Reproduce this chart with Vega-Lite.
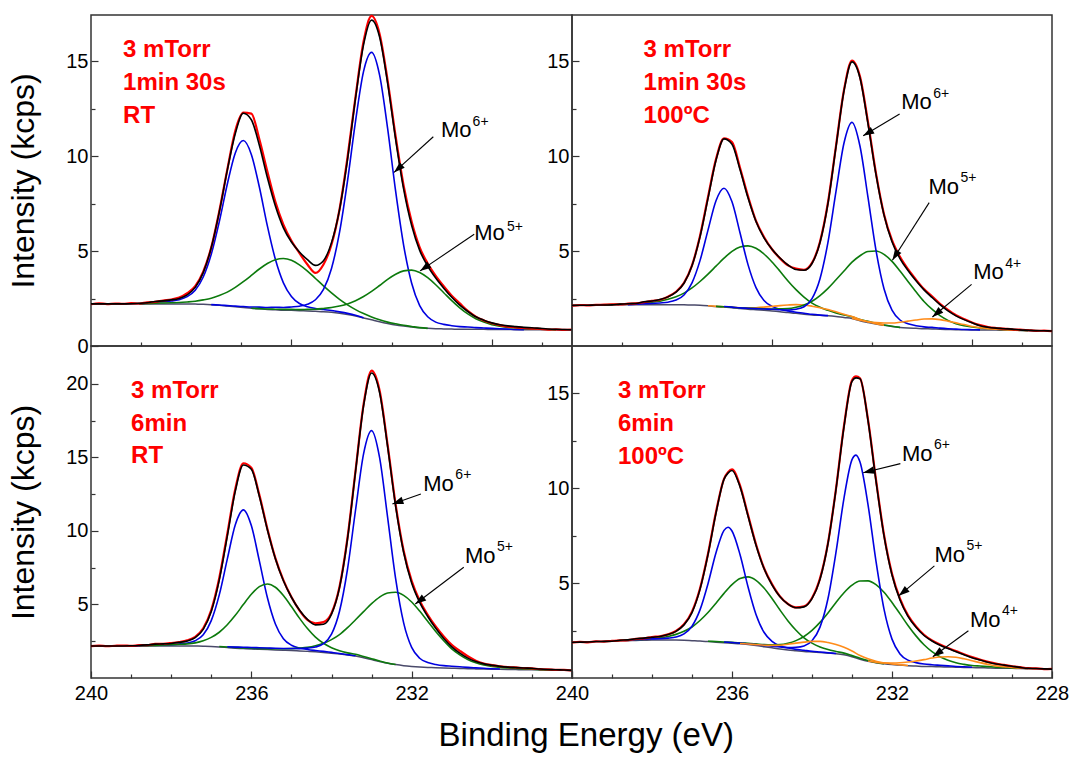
{
"$schema":"https://vega.github.io/schema/vega-lite/v6.json",
"autosize":{"type":"pad"},
"padding":{"left":7,"top":10,"right":5,"bottom":5},
"background":"white",
"title":{"text":"Binding Energy (eV)","orient":"bottom","anchor":"middle","fontSize":33,"font":"Liberation Sans","fontWeight":"normal","color":"#000","offset":13,"dx":48},
"config":{
 "view":{"stroke":"#333333","strokeWidth":1.5},
 "axis":{"domain":false,"grid":false,"labelFont":"Liberation Sans","labelFontSize":20,"labelColor":"#000","tickColor":"#333333","tickWidth":1.2,"titleFont":"Liberation Sans","titleFontWeight":"normal","titleFontSize":32,"titleColor":"#000","labelFlush":false,"labelOverlap":false,"ticks":true}
},
"datasets":{
"tl":[
{"x":240,"d":2.2,"f":2.22,"bg":2.22},
{"x":239.8,"d":2.25,"f":2.22,"bg":2.22},
{"x":239.6,"d":2.21,"f":2.22,"bg":2.22},
{"x":239.4,"d":2.24,"f":2.22,"bg":2.22},
{"x":239.2,"d":2.22,"f":2.22,"bg":2.22},
{"x":239,"d":2.26,"f":2.23,"bg":2.22},
{"x":238.8,"d":2.24,"f":2.25,"bg":2.22,"b1":2.22,"g1":2.22},
{"x":238.6,"d":2.3,"f":2.28,"bg":2.22,"b1":2.27,"g1":2.24},
{"x":238.4,"d":2.33,"f":2.35,"bg":2.22,"b1":2.31,"g1":2.26},
{"x":238.2,"d":2.4,"f":2.38,"bg":2.22,"b1":2.33,"g1":2.27},
{"x":238,"d":2.45,"f":2.43,"bg":2.22,"b1":2.37,"g1":2.28},
{"x":237.8,"d":2.55,"f":2.51,"bg":2.22,"b1":2.44,"g1":2.29},
{"x":237.6,"d":2.78,"f":2.7,"bg":2.22,"b1":2.6,"g1":2.32},
{"x":237.4,"d":3.15,"f":3.09,"bg":2.21,"b1":2.94,"g1":2.36},
{"x":237.2,"d":3.92,"f":3.87,"bg":2.2,"b1":3.64,"g1":2.43},
{"x":237,"d":5.2,"f":5.18,"bg":2.18,"b1":4.84,"g1":2.52,"b2":2.18},
{"x":236.8,"d":7.1,"f":7.06,"bg":2.15,"b1":6.55,"g1":2.66,"b2":2.16},
{"x":236.6,"d":9.3,"f":9.26,"bg":2.11,"b1":8.53,"g1":2.84,"b2":2.13},
{"x":236.4,"d":11.35,"f":11.2,"bg":2.07,"b1":10.18,"g1":3.09,"b2":2.1},
{"x":236.2,"d":12.3,"f":12.27,"bg":2.03,"b1":10.83,"g1":3.39,"b2":2.08},
{"x":236,"d":12.25,"f":11.93,"bg":1.99,"b1":10.1,"g1":3.72,"b2":2.06,"g2":1.99},
{"x":235.8,"d":10.9,"f":10.58,"bg":1.96,"b1":8.38,"g1":4.06,"b2":2.05,"g2":1.97},
{"x":235.6,"d":9.2,"f":8.88,"bg":1.93,"b1":6.33,"g1":4.35,"b2":2.03,"g2":1.95},
{"x":235.4,"d":7.6,"f":7.38,"bg":1.91,"b1":4.57,"g1":4.55,"b2":2.04,"g2":1.94},
{"x":235.2,"d":6.4,"f":6.23,"bg":1.89,"b1":3.33,"g1":4.61,"b2":2.03,"g2":1.93},
{"x":235,"d":5.55,"f":5.48,"bg":1.88,"b1":2.61,"g1":4.52,"b2":2.06,"g2":1.93},
{"x":234.8,"d":4.9,"f":4.96,"bg":1.86,"b1":2.24,"g1":4.28,"b2":2.1,"g2":1.92},
{"x":234.6,"d":4.3,"f":4.55,"bg":1.85,"b1":2.07,"g1":3.95,"b2":2.2,"g2":1.93},
{"x":234.4,"d":3.85,"f":4.25,"bg":1.83,"b1":1.98,"g1":3.56,"b2":2.44,"g2":1.94},
{"x":234.2,"d":4.3,"f":4.5,"bg":1.81,"b1":1.92,"g1":3.17,"b2":2.98,"g2":1.98},
{"x":234,"d":5.35,"f":5.45,"bg":1.78,"b1":1.87,"g1":2.8,"b2":4.09,"g2":2.03},
{"x":233.8,"d":7.2,"f":7.18,"bg":1.73,"b1":1.8,"g1":2.46,"b2":5.99,"g2":2.11},
{"x":233.6,"d":9.95,"f":9.84,"bg":1.66,"b1":1.72,"g1":2.17,"b2":8.71,"g2":2.22},
{"x":233.4,"d":13.15,"f":13.07,"bg":1.58,"b1":1.62,"g1":1.92,"b2":11.86,"g2":2.39},
{"x":233.2,"d":16.05,"f":15.89,"bg":1.48,"b1":1.49,"g1":1.71,"b2":14.48,"g2":2.61},
{"x":233,"d":17.4,"f":17.18,"bg":1.38,"g1":1.53,"b2":15.48,"g2":2.88},
{"x":232.8,"d":16.45,"f":16.29,"bg":1.28,"g1":1.38,"b2":14.28,"g2":3.19},
{"x":232.6,"d":14,"f":13.86,"bg":1.19,"g1":1.26,"b2":11.47,"g2":3.51},
{"x":232.4,"d":11.05,"f":10.89,"bg":1.11,"g1":1.17,"b2":8.16,"g2":3.78},
{"x":232.2,"d":8.45,"f":8.27,"bg":1.05,"g1":1.09,"b2":5.31,"g2":3.96},
{"x":232,"d":6.55,"f":6.35,"bg":1,"g1":1.03,"b2":3.31,"g2":4},
{"x":231.8,"d":5.2,"f":5.04,"bg":0.96,"g1":0.97,"b2":2.13,"g2":3.87},
{"x":231.6,"d":4.35,"f":4.21,"bg":0.93,"g1":0.93,"b2":1.54,"g2":3.6},
{"x":231.4,"d":3.7,"f":3.58,"bg":0.91,"b2":1.26,"g2":3.23},
{"x":231.2,"d":3.15,"f":3.05,"bg":0.9,"b2":1.14,"g2":2.81},
{"x":231,"d":2.65,"f":2.57,"bg":0.89,"b2":1.07,"g2":2.39},
{"x":230.8,"d":2.25,"f":2.15,"bg":0.88,"b2":1.02,"g2":2.01},
{"x":230.6,"d":1.85,"f":1.82,"bg":0.88,"b2":1.0,"g2":1.69},
{"x":230.4,"d":1.55,"f":1.54,"bg":0.88,"b2":0.97,"g2":1.44},
{"x":230.2,"d":1.35,"f":1.36,"bg":0.88,"b2":0.95,"g2":1.26},
{"x":230,"d":1.2,"f":1.22,"bg":0.87,"b2":0.93,"g2":1.12},
{"x":229.8,"d":1.1,"f":1.12,"bg":0.87,"b2":0.91,"g2":1.04},
{"x":229.6,"d":1.02,"f":1.06,"bg":0.87,"b2":0.89,"g2":0.98},
{"x":229.4,"d":0.98,"f":1.02,"bg":0.86,"b2":0.87,"g2":0.95},
{"x":229.2,"d":0.95,"f":0.98,"bg":0.86,"b2":0.86,"g2":0.92},
{"x":229,"d":0.92,"f":0.96,"bg":0.86,"g2":0.91},
{"x":228.8,"d":0.9,"f":0.93,"bg":0.86,"g2":0.89},
{"x":228.6,"d":0.86,"f":0.9,"bg":0.86,"g2":0.87},
{"x":228.4,"d":0.88,"f":0.88,"bg":0.85,"g2":0.85},
{"x":228.2,"d":0.85,"f":0.87,"bg":0.85},
{"x":228,"d":0.87,"f":0.86,"bg":0.85}
],
"tr":[
{"x":240,"d":2.13,"f":2.14,"bg":2.14},
{"x":239.8,"d":2.16,"f":2.15,"bg":2.15},
{"x":239.6,"d":2.14,"f":2.15,"bg":2.15},
{"x":239.4,"d":2.17,"f":2.16,"bg":2.16},
{"x":239.2,"d":2.18,"f":2.16,"bg":2.16,"g1":2.17},
{"x":239,"d":2.2,"f":2.17,"bg":2.17,"g1":2.19},
{"x":238.8,"d":2.19,"f":2.21,"bg":2.17,"g1":2.21},
{"x":238.6,"d":2.23,"f":2.23,"bg":2.17,"g1":2.23,"b1":2.18},
{"x":238.4,"d":2.25,"f":2.24,"bg":2.17,"g1":2.24,"b1":2.2},
{"x":238.2,"d":2.31,"f":2.33,"bg":2.18,"b1":2.23,"g1":2.27},
{"x":238,"d":2.38,"f":2.37,"bg":2.18,"b1":2.24,"g1":2.31},
{"x":237.8,"d":2.44,"f":2.45,"bg":2.18,"b1":2.27,"g1":2.36},
{"x":237.6,"d":2.6,"f":2.59,"bg":2.18,"b1":2.31,"g1":2.46},
{"x":237.4,"d":2.86,"f":2.84,"bg":2.18,"b1":2.42,"g1":2.6},
{"x":237.2,"d":3.33,"f":3.31,"bg":2.17,"b1":2.69,"g1":2.79},
{"x":237,"d":4.25,"f":4.23,"bg":2.16,"b1":3.33,"g1":3.06},
{"x":236.8,"d":5.8,"f":5.75,"bg":2.15,"b1":4.5,"g1":3.4},
{"x":236.6,"d":7.85,"f":7.78,"bg":2.12,"b1":6.11,"g1":3.79,"o1":2.12},
{"x":236.4,"d":9.85,"f":9.79,"bg":2.08,"b1":7.66,"g1":4.21,"o1":2.09,"g2":2.09},
{"x":236.2,"d":10.95,"f":10.92,"bg":2.05,"b1":8.32,"g1":4.63,"o1":2.07,"b2":2.08,"g2":2.07},
{"x":236,"d":10.75,"f":10.64,"bg":2.02,"b1":7.6,"g1":4.99,"o1":2.04,"b2":2.05,"g2":2.04},
{"x":235.8,"d":9.4,"f":9.3,"bg":1.98,"b1":5.97,"g1":5.22,"o1":2.02,"b2":2.01,"g2":2.01},
{"x":235.6,"d":7.9,"f":7.81,"bg":1.94,"b1":4.29,"g1":5.28,"o1":2.01,"g2":1.99,"b2":1.99},
{"x":235.4,"d":6.6,"f":6.56,"bg":1.91,"b1":3.08,"g1":5.15,"o1":2.02,"g2":1.98,"b2":1.97},
{"x":235.2,"d":5.75,"f":5.7,"bg":1.88,"b1":2.4,"g1":4.85,"o1":2.05,"g2":1.96,"b2":1.95},
{"x":235,"d":5.1,"f":5.1,"bg":1.85,"b1":2.09,"g1":4.43,"o1":2.09,"g2":1.95,"b2":1.94},
{"x":234.8,"d":4.62,"f":4.64,"bg":1.81,"b1":1.94,"g1":3.94,"o1":2.13,"g2":1.96,"b2":1.91},
{"x":234.6,"d":4.25,"f":4.27,"bg":1.76,"b1":1.85,"g1":3.43,"o1":2.16,"g2":1.97,"b2":1.9},
{"x":234.4,"d":4.08,"f":4.03,"bg":1.72,"b1":1.78,"g1":2.97,"o1":2.18,"g2":2.04,"b2":1.94},
{"x":234.2,"d":4.02,"f":3.99,"bg":1.68,"b1":1.73,"g1":2.58,"o1":2.16,"g2":2.16,"b2":2.07},
{"x":234,"d":4.38,"f":4.35,"bg":1.64,"b1":1.67,"g1":2.26,"o1":2.1,"g2":2.36,"b2":2.5},
{"x":233.8,"d":5.5,"f":5.46,"bg":1.62,"b1":1.63,"g1":2.04,"o1":2.02,"g2":2.66,"b2":3.55},
{"x":233.6,"d":7.58,"f":7.52,"bg":1.6,"b1":1.6,"g1":1.88,"o1":1.92,"g2":3.04,"b2":5.48},
{"x":233.4,"d":10.55,"f":10.5,"bg":1.56,"g1":1.74,"o1":1.8,"g2":3.49,"b2":8.15},
{"x":233.2,"d":13.5,"f":13.45,"bg":1.5,"g1":1.63,"o1":1.67,"g2":3.95,"b2":10.7},
{"x":233,"d":15.05,"f":14.98,"bg":1.45,"g1":1.54,"o1":1.56,"g2":4.42,"b2":11.79,"o2":1.47},
{"x":232.8,"d":14.2,"f":14.13,"bg":1.33,"g1":1.4,"o1":1.4,"g2":4.76,"b2":10.53,"o2":1.36},
{"x":232.6,"d":11.8,"f":11.71,"bg":1.24,"g1":1.3,"o1":1.28,"g2":4.98,"b2":7.83,"o2":1.28},
{"x":232.4,"d":9.1,"f":9.03,"bg":1.16,"g1":1.2,"o1":1.18,"g2":5.01,"b2":5.04,"o2":1.23},
{"x":232.2,"d":6.95,"f":6.9,"bg":1.09,"g1":1.11,"o1":1.1,"g2":4.83,"b2":3.02,"o2":1.21},
{"x":232,"d":5.58,"f":5.5,"bg":1.03,"g1":1.04,"g2":4.46,"b2":1.89,"o2":1.21},
{"x":231.8,"d":4.7,"f":4.61,"bg":0.98,"g1":0.98,"g2":3.95,"b2":1.37,"o2":1.25},
{"x":231.6,"d":4.05,"f":3.98,"bg":0.95,"g2":3.4,"b2":1.17,"o2":1.31},
{"x":231.4,"d":3.5,"f":3.44,"bg":0.93,"g2":2.86,"b2":1.07,"o2":1.37},
{"x":231.2,"d":3,"f":2.96,"bg":0.91,"g2":2.35,"b2":1.01,"o2":1.42},
{"x":231,"d":2.62,"f":2.56,"bg":0.9,"g2":1.94,"b2":0.98,"o2":1.43},
{"x":230.8,"d":2.22,"f":2.18,"bg":0.88,"g2":1.6,"b2":0.94,"o2":1.39},
{"x":230.6,"d":1.9,"f":1.85,"bg":0.87,"g2":1.35,"b2":0.91,"o2":1.31},
{"x":230.4,"d":1.62,"f":1.59,"bg":0.86,"g2":1.18,"b2":0.89,"o2":1.22},
{"x":230.2,"d":1.42,"f":1.39,"bg":0.86,"g2":1.07,"b2":0.87,"o2":1.13},
{"x":230,"d":1.24,"f":1.22,"bg":0.85,"g2":1,"b2":0.86,"o2":1.03},
{"x":229.8,"d":1.1,"f":1.07,"bg":0.85,"g2":0.95,"b2":0.85,"o2":0.97},
{"x":229.6,"d":1,"f":0.99,"bg":0.84,"g2":0.92,"o2":0.91},
{"x":229.4,"d":0.95,"f":0.94,"bg":0.84,"g2":0.89,"o2":0.88},
{"x":229.2,"d":0.92,"f":0.91,"bg":0.83,"g2":0.87,"o2":0.86},
{"x":229,"d":0.88,"f":0.89,"bg":0.83,"g2":0.85,"o2":0.84},
{"x":228.8,"d":0.86,"f":0.85,"bg":0.82,"g2":0.83,"o2":0.82},
{"x":228.6,"d":0.84,"f":0.83,"bg":0.81,"g2":0.81},
{"x":228.4,"d":0.8,"f":0.81,"bg":0.8},
{"x":228.2,"d":0.81,"f":0.8,"bg":0.8},
{"x":228,"d":0.78,"f":0.79,"bg":0.79}
],
"bl":[
{"x":240,"d":2.17,"f":2.18,"bg":2.18},
{"x":239.8,"d":2.2,"f":2.18,"bg":2.18},
{"x":239.6,"d":2.16,"f":2.18,"bg":2.18},
{"x":239.4,"d":2.19,"f":2.18,"bg":2.18},
{"x":239.2,"d":2.21,"f":2.18,"bg":2.18},
{"x":239,"d":2.18,"f":2.19,"bg":2.18,"b1":2.18},
{"x":238.8,"d":2.23,"f":2.21,"bg":2.18,"b1":2.2,"g1":2.19},
{"x":238.6,"d":2.24,"f":2.25,"bg":2.18,"b1":2.22,"g1":2.2},
{"x":238.4,"d":2.32,"f":2.3,"bg":2.18,"b1":2.24,"g1":2.22},
{"x":238.2,"d":2.33,"f":2.32,"bg":2.18,"b1":2.26,"g1":2.24},
{"x":238,"d":2.38,"f":2.35,"bg":2.18,"b1":2.27,"g1":2.26},
{"x":237.8,"d":2.45,"f":2.42,"bg":2.18,"b1":2.31,"g1":2.29},
{"x":237.6,"d":2.56,"f":2.52,"bg":2.18,"b1":2.38,"g1":2.32},
{"x":237.4,"d":2.8,"f":2.75,"bg":2.17,"b1":2.53,"g1":2.39},
{"x":237.2,"d":3.38,"f":3.31,"bg":2.16,"b1":2.94,"g1":2.53},
{"x":237,"d":4.62,"f":4.52,"bg":2.14,"b1":3.9,"g1":2.76},
{"x":236.8,"d":6.8,"f":6.65,"bg":2.11,"b1":5.65,"g1":3.11,"g2":2.14},
{"x":236.6,"d":9.8,"f":9.63,"bg":2.07,"b1":8.08,"g1":3.62,"b2":2.12,"g2":2.11},
{"x":236.4,"d":12.85,"f":12.7,"bg":2.03,"b1":10.42,"g1":4.26,"b2":2.1,"g2":2.08},
{"x":236.2,"d":14.6,"f":14.48,"bg":2,"b1":11.43,"g1":4.99,"b2":2.09,"g2":2.05},
{"x":236,"d":14.3,"f":14.19,"bg":1.97,"b1":10.36,"g1":5.69,"b2":2.07,"g2":2.02},
{"x":235.8,"d":12.45,"f":12.35,"bg":1.95,"b1":7.96,"g1":6.21,"b2":2.06,"g2":2.01},
{"x":235.6,"d":10.15,"f":10.08,"bg":1.93,"b1":5.47,"g1":6.39,"g2":2,"b2":2.04},
{"x":235.4,"d":8.15,"f":8.11,"bg":1.91,"b1":3.67,"g1":6.17,"g2":1.99,"b2":2.02},
{"x":235.2,"d":6.65,"f":6.61,"bg":1.89,"b1":2.67,"g1":5.61,"g2":1.99,"b2":2.01},
{"x":235,"d":5.5,"f":5.49,"bg":1.87,"b1":2.23,"g1":4.86,"g2":2,"b2":2.01},
{"x":234.8,"d":4.6,"f":4.62,"bg":1.84,"b1":2.04,"g1":4.07,"g2":2.03,"b2":2},
{"x":234.6,"d":3.95,"f":3.98,"bg":1.81,"b1":1.94,"g1":3.36,"g2":2.08,"b2":2.03},
{"x":234.4,"d":3.72,"f":3.61,"bg":1.78,"b1":1.87,"g1":2.78,"g2":2.19,"b2":2.11},
{"x":234.2,"d":3.8,"f":3.65,"bg":1.74,"b1":1.81,"g1":2.36,"g2":2.36,"b2":2.33},
{"x":234,"d":4.4,"f":4.34,"bg":1.69,"b1":1.74,"g1":2.06,"g2":2.61,"b2":2.98},
{"x":233.8,"d":6.2,"f":6.14,"bg":1.63,"b1":1.67,"g1":1.85,"g2":2.95,"b2":4.54},
{"x":233.6,"d":9.55,"f":9.46,"bg":1.57,"b1":1.59,"g1":1.71,"g2":3.42,"b2":7.41},
{"x":233.4,"d":14.1,"f":14.04,"bg":1.5,"b1":1.51,"g1":1.61,"g2":3.96,"b2":11.42},
{"x":233.2,"d":18.6,"f":18.5,"bg":1.38,"g1":1.46,"g2":4.51,"b2":15.24},
{"x":233,"d":20.9,"f":20.73,"bg":1.25,"g1":1.31,"g2":5.05,"b2":16.82},
{"x":232.8,"d":19.55,"f":19.4,"bg":1.12,"g1":1.16,"g2":5.5,"b2":14.98},
{"x":232.6,"d":15.85,"f":15.73,"bg":1,"g1":1.02,"g2":5.78,"b2":10.92},
{"x":232.4,"d":11.8,"f":11.67,"bg":0.91,"g1":0.92,"g2":5.83,"b2":6.75},
{"x":232.2,"d":8.65,"f":8.53,"bg":0.84,"g2":5.62,"b2":3.75},
{"x":232,"d":6.6,"f":6.46,"bg":0.79,"g2":5.17,"b2":2.08},
{"x":231.8,"d":5.25,"f":5.14,"bg":0.75,"g2":4.55,"b2":1.34},
{"x":231.6,"d":4.3,"f":4.18,"bg":0.72,"g2":3.85,"b2":1.05},
{"x":231.4,"d":3.5,"f":3.38,"bg":0.7,"g2":3.16,"b2":0.92},
{"x":231.2,"d":2.82,"f":2.69,"bg":0.68,"g2":2.53,"b2":0.84},
{"x":231,"d":2.25,"f":2.12,"bg":0.66,"g2":1.98,"b2":0.8},
{"x":230.8,"d":1.85,"f":1.69,"bg":0.65,"g2":1.57,"b2":0.76},
{"x":230.6,"d":1.48,"f":1.35,"bg":0.63,"g2":1.25,"b2":0.72},
{"x":230.4,"d":1.18,"f":1.12,"bg":0.62,"g2":1.03,"b2":0.69},
{"x":230.2,"d":0.99,"f":0.96,"bg":0.61,"g2":0.88,"b2":0.66},
{"x":230,"d":0.88,"f":0.87,"bg":0.6,"g2":0.79,"b2":0.63},
{"x":229.8,"d":0.8,"f":0.79,"bg":0.59,"g2":0.72,"b2":0.61},
{"x":229.6,"d":0.74,"f":0.74,"bg":0.58,"g2":0.68},
{"x":229.4,"d":0.72,"f":0.71,"bg":0.57,"g2":0.65},
{"x":229.2,"d":0.67,"f":0.68,"bg":0.56,"g2":0.62},
{"x":229,"d":0.66,"f":0.66,"bg":0.56,"g2":0.6},
{"x":228.8,"d":0.6,"f":0.61,"bg":0.55,"g2":0.57},
{"x":228.6,"d":0.59,"f":0.58,"bg":0.54,"g2":0.55},
{"x":228.4,"d":0.55,"f":0.56,"bg":0.53,"g2":0.53},
{"x":228.2,"d":0.55,"f":0.54,"bg":0.52},
{"x":228,"d":0.51,"f":0.52,"bg":0.51}
],
"br":[
{"x":240,"d":1.87,"f":1.88,"bg":1.88},
{"x":239.8,"d":1.9,"f":1.89,"bg":1.89},
{"x":239.6,"d":1.88,"f":1.9,"bg":1.9},
{"x":239.4,"d":1.93,"f":1.92,"bg":1.92},
{"x":239.2,"d":1.92,"f":1.93,"bg":1.93},
{"x":239,"d":1.96,"f":1.94,"bg":1.94,"g1":1.95},
{"x":238.8,"d":1.98,"f":1.99,"bg":1.96,"g1":1.98},
{"x":238.6,"d":2,"f":2.01,"bg":1.97,"g1":2.01,"b1":2.0},
{"x":238.4,"d":2.06,"f":2.07,"bg":1.98,"g1":2.03,"b1":2.03},
{"x":238.2,"d":2.09,"f":2.1,"bg":1.99,"b1":2.05,"g1":2.05},
{"x":238,"d":2.16,"f":2.15,"bg":2,"b1":2.06,"g1":2.09},
{"x":237.8,"d":2.2,"f":2.19,"bg":2,"b1":2.07,"g1":2.12},
{"x":237.6,"d":2.3,"f":2.29,"bg":2,"b1":2.1,"g1":2.19},
{"x":237.4,"d":2.48,"f":2.46,"bg":2,"b1":2.16,"g1":2.3},
{"x":237.2,"d":2.83,"f":2.8,"bg":1.99,"b1":2.33,"g1":2.46},
{"x":237,"d":3.5,"f":3.45,"bg":1.97,"b1":2.73,"g1":2.69},
{"x":236.8,"d":4.72,"f":4.67,"bg":1.95,"b1":3.59,"g1":3.03},
{"x":236.6,"d":6.55,"f":6.5,"bg":1.92,"b1":4.97,"g1":3.45,"g2":1.94},
{"x":236.4,"d":8.75,"f":8.69,"bg":1.89,"b1":6.6,"g1":3.94,"g2":1.92},
{"x":236.2,"d":10.5,"f":10.47,"bg":1.86,"b1":7.78,"g1":4.46,"g2":1.9,"b2":1.9},
{"x":236.1,"d":10.85,"f":10.8,"b1":7.95},
{"x":236,"d":11,"f":10.94,"bg":1.83,"b1":7.75,"g1":4.92,"g2":1.88,"b2":1.87},
{"x":235.8,"d":10.15,"f":10.08,"bg":1.8,"b1":6.51,"g1":5.24,"g2":1.86,"o1":1.82,"b2":1.84},
{"x":235.6,"d":8.6,"f":8.54,"bg":1.76,"b1":4.81,"g1":5.33,"g2":1.83,"o1":1.79,"b2":1.8},
{"x":235.4,"d":7.05,"f":7,"bg":1.71,"b1":3.35,"g1":5.15,"g2":1.8,"o1":1.76,"b2":1.76},
{"x":235.2,"d":5.8,"f":5.77,"bg":1.65,"b1":2.41,"g1":4.74,"g2":1.76,"o1":1.73,"b2":1.72},
{"x":235,"d":4.95,"f":4.91,"bg":1.59,"b1":1.93,"g1":4.19,"g2":1.75,"o1":1.72,"b2":1.68},
{"x":234.8,"d":4.3,"f":4.28,"bg":1.53,"b1":1.69,"g1":3.58,"g2":1.76,"o1":1.73,"b2":1.64},
{"x":234.6,"d":3.9,"f":3.89,"bg":1.48,"b1":1.58,"g1":3.01,"g2":1.83,"o1":1.78,"b2":1.61},
{"x":234.4,"d":3.72,"f":3.7,"bg":1.44,"b1":1.51,"g1":2.52,"g2":1.97,"o1":1.84,"b2":1.62},
{"x":234.2,"d":3.78,"f":3.75,"bg":1.4,"b1":1.46,"g1":2.12,"g2":2.19,"o1":1.89,"b2":1.69},
{"x":234,"d":4.22,"f":4.18,"bg":1.37,"b1":1.41,"g1":1.84,"g2":2.51,"o1":1.93,"b2":1.96},
{"x":233.8,"d":5.25,"f":5.2,"bg":1.34,"b1":1.37,"g1":1.64,"g2":2.93,"o1":1.93,"b2":2.68},
{"x":233.6,"d":7.12,"f":7.09,"bg":1.31,"b1":1.33,"g1":1.5,"g2":3.43,"o1":1.87,"b2":4.19},
{"x":233.4,"d":9.98,"f":9.94,"bg":1.28,"b1":1.29,"g1":1.4,"g2":3.98,"o1":1.77,"b2":6.63},
{"x":233.2,"d":13.3,"f":13.24,"bg":1.22,"g1":1.31,"g2":4.49,"o1":1.62,"b2":9.48},
{"x":233,"d":15.7,"f":15.64,"bg":1.12,"g1":1.18,"g2":4.89,"o1":1.42,"b2":11.51},
{"x":232.9,"d":15.9,"f":15.82,"b2":11.75},
{"x":232.8,"d":15.8,"f":15.77,"bg":0.99,"g1":1.04,"g2":5.11,"o1":1.19,"b2":11.38},
{"x":232.6,"d":13.62,"f":13.57,"bg":0.88,"g1":0.92,"g2":5.12,"o1":1.01,"b2":9.14,"o2":0.9},
{"x":232.4,"d":10.45,"f":10.38,"bg":0.8,"g1":0.82,"g2":4.92,"o1":0.88,"b2":6.15,"o2":0.83},
{"x":232.2,"d":7.55,"f":7.49,"bg":0.75,"g1":0.76,"g2":4.52,"o1":0.8,"b2":3.63,"o2":0.79},
{"x":232,"d":5.5,"f":5.43,"bg":0.71,"g2":3.98,"o1":0.74,"b2":2.05,"o2":0.79},
{"x":231.8,"d":4.18,"f":4.11,"bg":0.68,"g2":3.38,"o1":0.7,"b2":1.27,"o2":0.8},
{"x":231.6,"d":3.3,"f":3.25,"bg":0.65,"g2":2.77,"o1":0.66,"b2":0.94,"o2":0.84},
{"x":231.4,"d":2.72,"f":2.67,"bg":0.63,"g2":2.22,"b2":0.81,"o2":0.9},
{"x":231.2,"d":2.28,"f":2.24,"bg":0.61,"g2":1.75,"b2":0.74,"o2":0.97},
{"x":231,"d":1.98,"f":1.95,"bg":0.6,"g2":1.39,"b2":0.7,"o2":1.05},
{"x":230.8,"d":1.76,"f":1.73,"bg":0.59,"g2":1.12,"b2":0.67,"o2":1.11},
{"x":230.6,"d":1.58,"f":1.55,"bg":0.58,"g2":0.93,"b2":0.64,"o2":1.12},
{"x":230.4,"d":1.42,"f":1.39,"bg":0.57,"g2":0.8,"b2":0.61,"o2":1.09},
{"x":230.2,"d":1.25,"f":1.23,"bg":0.56,"g2":0.72,"b2":0.59,"o2":1.01},
{"x":230,"d":1.1,"f":1.07,"bg":0.55,"g2":0.66,"b2":0.57,"o2":0.91},
{"x":229.8,"d":0.97,"f":0.95,"bg":0.54,"g2":0.63,"o2":0.81},
{"x":229.6,"d":0.85,"f":0.83,"bg":0.53,"g2":0.6,"o2":0.72},
{"x":229.4,"d":0.76,"f":0.74,"bg":0.52,"g2":0.57,"o2":0.64},
{"x":229.2,"d":0.69,"f":0.68,"bg":0.52,"g2":0.55,"o2":0.6},
{"x":229,"d":0.62,"f":0.62,"bg":0.51,"g2":0.53,"o2":0.55},
{"x":228.8,"d":0.57,"f":0.56,"bg":0.5,"g2":0.51,"o2":0.53},
{"x":228.6,"d":0.52,"f":0.51,"bg":0.49,"g2":0.5,"o2":0.51},
{"x":228.4,"d":0.51,"f":0.5,"bg":0.49,"o2":0.49},
{"x":228.2,"d":0.47,"f":0.48,"bg":0.48},
{"x":228,"d":0.48,"f":0.47,"bg":0.47}
],
"ann":[
{"p":"tl","k":"r","t":"3 mTorr","x":239.2,"y":15.25},
{"p":"tl","k":"r","t":"1min 30s","x":239.2,"y":13.5},
{"p":"tl","k":"r","t":"RT","x":239.2,"y":11.77},
{"p":"tl","k":"m","t":"Mo","x":231.27,"y":11.03},
{"p":"tl","k":"s","t":"6+","x":230.48,"y":11.6},
{"p":"tl","k":"a","x":231.46,"y":11.03,"x2":232.44,"y2":9.15},
{"p":"tl","k":"h","x":232.44,"y":9.15,"ang":-132},
{"p":"tl","k":"m","t":"Mo","x":230.44,"y":5.58},
{"p":"tl","k":"s","t":"5+","x":229.62,"y":6.07},
{"p":"tl","k":"a","x":230.44,"y":5.89,"x2":231.79,"y2":3.96},
{"p":"tl","k":"h","x":231.79,"y":3.96,"ang":-124},
{"p":"tr","k":"r","t":"3 mTorr","x":238.21,"y":15.25},
{"p":"tr","k":"r","t":"1min 30s","x":238.21,"y":13.5},
{"p":"tr","k":"r","t":"100ºC","x":238.21,"y":11.77},
{"p":"tr","k":"m","t":"Mo","x":231.77,"y":12.49},
{"p":"tr","k":"s","t":"6+","x":230.97,"y":13.1},
{"p":"tr","k":"a","x":231.81,"y":12.23,"x2":232.72,"y2":11.08},
{"p":"tr","k":"h","x":232.72,"y":11.08,"ang":-121},
{"p":"tr","k":"m","t":"Mo","x":231.09,"y":8.0},
{"p":"tr","k":"s","t":"5+","x":230.29,"y":8.62},
{"p":"tr","k":"a","x":231.07,"y":7.56,"x2":231.99,"y2":4.52},
{"p":"tr","k":"h","x":231.99,"y":4.52,"ang":-148},
{"p":"tr","k":"m","t":"Mo","x":229.97,"y":3.52},
{"p":"tr","k":"s","t":"4+","x":229.17,"y":4.13},
{"p":"tr","k":"a","x":230.01,"y":3.25,"x2":230.99,"y2":1.53},
{"p":"tr","k":"h","x":230.99,"y":1.53,"ang":-130},
{"p":"bl","k":"r","t":"3 mTorr","x":239.0,"y":19.05},
{"p":"bl","k":"r","t":"6min","x":239.0,"y":16.82},
{"p":"bl","k":"r","t":"RT","x":239.0,"y":14.6},
{"p":"bl","k":"m","t":"Mo","x":231.71,"y":12.74},
{"p":"bl","k":"s","t":"6+","x":230.91,"y":13.54},
{"p":"bl","k":"a","x":231.77,"y":12.51,"x2":232.48,"y2":11.83},
{"p":"bl","k":"h","x":232.48,"y":11.83,"ang":-109},
{"p":"bl","k":"m","t":"Mo","x":230.67,"y":7.8},
{"p":"bl","k":"s","t":"5+","x":229.87,"y":8.66},
{"p":"bl","k":"a","x":230.7,"y":7.53,"x2":231.91,"y2":5.03},
{"p":"bl","k":"h","x":231.91,"y":5.03,"ang":-127},
{"p":"br","k":"r","t":"3 mTorr","x":238.85,"y":14.74},
{"p":"br","k":"r","t":"6min","x":238.85,"y":13.02},
{"p":"br","k":"r","t":"100ºC","x":238.85,"y":11.29},
{"p":"br","k":"m","t":"Mo","x":231.75,"y":11.44},
{"p":"br","k":"s","t":"6+","x":230.95,"y":12.05},
{"p":"br","k":"a","x":231.79,"y":11.3,"x2":232.72,"y2":10.82},
{"p":"br","k":"h","x":232.72,"y":10.82,"ang":-104},
{"p":"br","k":"m","t":"Mo","x":230.94,"y":6.14},
{"p":"br","k":"s","t":"5+","x":230.14,"y":6.73},
{"p":"br","k":"a","x":230.94,"y":5.91,"x2":231.83,"y2":4.33},
{"p":"br","k":"h","x":231.83,"y":4.33,"ang":-130},
{"p":"br","k":"m","t":"Mo","x":230.05,"y":2.7},
{"p":"br","k":"s","t":"4+","x":229.25,"y":3.33},
{"p":"br","k":"a","x":230.09,"y":2.49,"x2":230.98,"y2":1.12},
{"p":"br","k":"h","x":230.98,"y":1.12,"ang":-126}
]
},
"concat":[
{
 "width":481,"height":331,
 "data":{"name":"tl"},
 "transform":[{"fold":["bg","b1","b2","g1","g2","o1","o2","d","f"],"as":["s","y"]},{"filter":"isValid(datum.y)"}],
 "encoding":{
  "x":{"field":"x","type":"quantitative","scale":{"domain":[228,240],"reverse":true,"nice":false,"zero":false},
   "axis":{"values":[238.75,237.5,236.25,235,233.75,232.5,231.25,230,228.75],"labels":false,"title":null,"tickSize":{"condition":{"test":"datum.value % 5 === 0","value":-7},"value":-4}}},
  "y":{"field":"y","type":"quantitative","scale":{"domain":[0,17.45],"nice":false,"zero":false},
   "axis":{"values":[0,2.5,5,7.5,10,12.5,15],"labelExpr":"datum.value % 5 === 0 ? datum.label : ''","title":"Intensity (kcps)","titlePadding":25,"labelPadding":10,"tickSize":{"condition":{"test":"datum.value % 5 === 0","value":-7},"value":-4}}}
 },
 "layer":[
  {"transform":[{"filter":"datum.s === 'bg'"}],"mark":{"type":"line","color":"#4a4a6a","strokeWidth":1.5,"interpolate":"monotone"}},
  {"transform":[{"filter":"test(/^[bgo][12]$/, datum.s)"}],"mark":{"type":"line","strokeWidth":1.6,"interpolate":"monotone"},
   "encoding":{"color":{"field":"s","type":"nominal","scale":{"domain":["b1","b2","g1","g2","o1","o2"],"range":["#0000e0","#0000e0","#0c7a0c","#0c7a0c","#ff8c1a","#ff8c1a"]},"legend":null}}},
  {"transform":[{"filter":"datum.s === 'd'"}],"mark":{"type":"line","color":"#ff0000","strokeWidth":2.2,"interpolate":"monotone"}},
  {"transform":[{"filter":"datum.s === 'f'"}],"mark":{"type":"line","color":"#000000","strokeWidth":1.6,"interpolate":"monotone"}},
  {"data":{"name":"ann"},"transform":[{"filter":"datum.p === 'tl' && datum.k === 'a'"}],"mark":{"type":"rule","color":"#000","strokeWidth":1.1},"encoding":{"x2":{"field":"x2"},"y2":{"field":"y2"}}},
  {"data":{"name":"ann"},"transform":[{"filter":"datum.p === 'tl' && datum.k === 'h'"}],"mark":{"type":"point","shape":"M0,0L0.75,2.2L-0.75,2.2Z","filled":true,"color":"#000","size":100,"opacity":1,"strokeWidth":0},"encoding":{"angle":{"field":"ang","type":"quantitative","scale":null}}},
  {"data":{"name":"ann"},"transform":[{"filter":"datum.p === 'tl' && datum.k === 'm'"}],"mark":{"type":"text","align":"left","baseline":"alphabetic","fontSize":22,"font":"Liberation Sans","color":"#000"},"encoding":{"text":{"field":"t"}}},
  {"data":{"name":"ann"},"transform":[{"filter":"datum.p === 'tl' && datum.k === 's'"}],"mark":{"type":"text","align":"left","baseline":"alphabetic","fontSize":14,"font":"Liberation Sans","color":"#000"},"encoding":{"text":{"field":"t"}}},
  {"data":{"name":"ann"},"transform":[{"filter":"datum.p === 'tl' && datum.k === 'r'"}],"mark":{"type":"text","align":"left","baseline":"alphabetic","fontSize":24,"fontWeight":"bold","font":"Liberation Sans","color":"#ff0000"},"encoding":{"text":{"field":"t"}}}
 ]
},
{
 "width":480,"height":331,
 "data":{"name":"tr"},
 "transform":[{"fold":["bg","b1","b2","g1","g2","o1","o2","d","f"],"as":["s","y"]},{"filter":"isValid(datum.y)"}],
 "encoding":{
  "x":{"field":"x","type":"quantitative","scale":{"domain":[228,240],"reverse":true,"nice":false,"zero":false},
   "axis":{"values":[238.75,237.5,236.25,235,233.75,232.5,231.25,230,228.75],"labels":false,"title":null,"tickSize":{"condition":{"test":"datum.value % 5 === 0","value":-7},"value":-4}}},
  "y":{"field":"y","type":"quantitative","scale":{"domain":[0,17.45],"nice":false,"zero":false},
   "axis":{"values":[2.5,5,7.5,10,12.5,15],"labelExpr":"datum.value % 5 === 0 ? datum.label : ''","title":null,"labelPadding":10,"tickSize":{"condition":{"test":"datum.value % 5 === 0","value":-7},"value":-4}}}
 },
 "layer":[
  {"transform":[{"filter":"datum.s === 'bg'"}],"mark":{"type":"line","color":"#4a4a6a","strokeWidth":1.5,"interpolate":"monotone"}},
  {"transform":[{"filter":"test(/^[bgo][12]$/, datum.s)"}],"mark":{"type":"line","strokeWidth":1.6,"interpolate":"monotone"},
   "encoding":{"color":{"field":"s","type":"nominal","scale":{"domain":["b1","b2","g1","g2","o1","o2"],"range":["#0000e0","#0000e0","#0c7a0c","#0c7a0c","#ff8c1a","#ff8c1a"]},"legend":null}}},
  {"transform":[{"filter":"datum.s === 'd'"}],"mark":{"type":"line","color":"#ff0000","strokeWidth":2.2,"interpolate":"monotone"}},
  {"transform":[{"filter":"datum.s === 'f'"}],"mark":{"type":"line","color":"#000000","strokeWidth":1.6,"interpolate":"monotone"}},
  {"data":{"name":"ann"},"transform":[{"filter":"datum.p === 'tr' && datum.k === 'a'"}],"mark":{"type":"rule","color":"#000","strokeWidth":1.1},"encoding":{"x2":{"field":"x2"},"y2":{"field":"y2"}}},
  {"data":{"name":"ann"},"transform":[{"filter":"datum.p === 'tr' && datum.k === 'h'"}],"mark":{"type":"point","shape":"M0,0L0.75,2.2L-0.75,2.2Z","filled":true,"color":"#000","size":100,"opacity":1,"strokeWidth":0},"encoding":{"angle":{"field":"ang","type":"quantitative","scale":null}}},
  {"data":{"name":"ann"},"transform":[{"filter":"datum.p === 'tr' && datum.k === 'm'"}],"mark":{"type":"text","align":"left","baseline":"alphabetic","fontSize":22,"font":"Liberation Sans","color":"#000"},"encoding":{"text":{"field":"t"}}},
  {"data":{"name":"ann"},"transform":[{"filter":"datum.p === 'tr' && datum.k === 's'"}],"mark":{"type":"text","align":"left","baseline":"alphabetic","fontSize":14,"font":"Liberation Sans","color":"#000"},"encoding":{"text":{"field":"t"}}},
  {"data":{"name":"ann"},"transform":[{"filter":"datum.p === 'tr' && datum.k === 'r'"}],"mark":{"type":"text","align":"left","baseline":"alphabetic","fontSize":24,"fontWeight":"bold","font":"Liberation Sans","color":"#ff0000"},"encoding":{"text":{"field":"t"}}}
 ]
},
{
 "width":481,"height":332,
 "data":{"name":"bl"},
 "transform":[{"fold":["bg","b1","b2","g1","g2","o1","o2","d","f"],"as":["s","y"]},{"filter":"isValid(datum.y)"}],
 "encoding":{
  "x":{"field":"x","type":"quantitative","scale":{"domain":[228,240],"reverse":true,"nice":false,"zero":false},
   "axis":{"values":[240,239,238,237,236,235,234,233,232,231,230,229,228],"labelExpr":"(datum.value % 4 === 0 && datum.value !== 228) ? datum.label : ''","title":null,"labelPadding":12,"tickSize":{"condition":{"test":"datum.value % 4 === 0","value":-7},"value":-4}}},
  "y":{"field":"y","type":"quantitative","scale":{"domain":[0,22.57],"nice":false,"zero":false},
   "axis":{"values":[2.5,5,7.5,10,12.5,15,17.5,20],"labelExpr":"datum.value % 5 === 0 ? datum.label : ''","title":"Intensity (kcps)","titlePadding":25,"labelPadding":10,"tickSize":{"condition":{"test":"datum.value % 5 === 0","value":-7},"value":-4}}}
 },
 "layer":[
  {"transform":[{"filter":"datum.s === 'bg'"}],"mark":{"type":"line","color":"#4a4a6a","strokeWidth":1.5,"interpolate":"monotone"}},
  {"transform":[{"filter":"test(/^[bgo][12]$/, datum.s)"}],"mark":{"type":"line","strokeWidth":1.6,"interpolate":"monotone"},
   "encoding":{"color":{"field":"s","type":"nominal","scale":{"domain":["b1","b2","g1","g2","o1","o2"],"range":["#0000e0","#0000e0","#0c7a0c","#0c7a0c","#ff8c1a","#ff8c1a"]},"legend":null}}},
  {"transform":[{"filter":"datum.s === 'd'"}],"mark":{"type":"line","color":"#ff0000","strokeWidth":2.2,"interpolate":"monotone"}},
  {"transform":[{"filter":"datum.s === 'f'"}],"mark":{"type":"line","color":"#000000","strokeWidth":1.6,"interpolate":"monotone"}},
  {"data":{"name":"ann"},"transform":[{"filter":"datum.p === 'bl' && datum.k === 'a'"}],"mark":{"type":"rule","color":"#000","strokeWidth":1.1},"encoding":{"x2":{"field":"x2"},"y2":{"field":"y2"}}},
  {"data":{"name":"ann"},"transform":[{"filter":"datum.p === 'bl' && datum.k === 'h'"}],"mark":{"type":"point","shape":"M0,0L0.75,2.2L-0.75,2.2Z","filled":true,"color":"#000","size":100,"opacity":1,"strokeWidth":0},"encoding":{"angle":{"field":"ang","type":"quantitative","scale":null}}},
  {"data":{"name":"ann"},"transform":[{"filter":"datum.p === 'bl' && datum.k === 'm'"}],"mark":{"type":"text","align":"left","baseline":"alphabetic","fontSize":22,"font":"Liberation Sans","color":"#000"},"encoding":{"text":{"field":"t"}}},
  {"data":{"name":"ann"},"transform":[{"filter":"datum.p === 'bl' && datum.k === 's'"}],"mark":{"type":"text","align":"left","baseline":"alphabetic","fontSize":14,"font":"Liberation Sans","color":"#000"},"encoding":{"text":{"field":"t"}}},
  {"data":{"name":"ann"},"transform":[{"filter":"datum.p === 'bl' && datum.k === 'r'"}],"mark":{"type":"text","align":"left","baseline":"alphabetic","fontSize":24,"fontWeight":"bold","font":"Liberation Sans","color":"#ff0000"},"encoding":{"text":{"field":"t"}}}
 ]
},
{
 "width":480,"height":332,
 "data":{"name":"br"},
 "transform":[{"fold":["bg","b1","b2","g1","g2","o1","o2","d","f"],"as":["s","y"]},{"filter":"isValid(datum.y)"}],
 "encoding":{
  "x":{"field":"x","type":"quantitative","scale":{"domain":[228,240],"reverse":true,"nice":false,"zero":false},
   "axis":{"values":[240,239,238,237,236,235,234,233,232,231,230,229,228],"labelExpr":"datum.value % 4 === 0 ? datum.label : ''","title":null,"labelPadding":12,"tickSize":{"condition":{"test":"datum.value % 4 === 0","value":-7},"value":-4}}},
  "y":{"field":"y","type":"quantitative","scale":{"domain":[0,17.5],"nice":false,"zero":false},
   "axis":{"values":[2.5,5,7.5,10,12.5,15],"labelExpr":"datum.value % 5 === 0 ? datum.label : ''","title":null,"labelPadding":10,"tickSize":{"condition":{"test":"datum.value % 5 === 0","value":-7},"value":-4}}}
 },
 "layer":[
  {"transform":[{"filter":"datum.s === 'bg'"}],"mark":{"type":"line","color":"#4a4a6a","strokeWidth":1.5,"interpolate":"monotone"}},
  {"transform":[{"filter":"test(/^[bgo][12]$/, datum.s)"}],"mark":{"type":"line","strokeWidth":1.6,"interpolate":"monotone"},
   "encoding":{"color":{"field":"s","type":"nominal","scale":{"domain":["b1","b2","g1","g2","o1","o2"],"range":["#0000e0","#0000e0","#0c7a0c","#0c7a0c","#ff8c1a","#ff8c1a"]},"legend":null}}},
  {"transform":[{"filter":"datum.s === 'd'"}],"mark":{"type":"line","color":"#ff0000","strokeWidth":2.2,"interpolate":"monotone"}},
  {"transform":[{"filter":"datum.s === 'f'"}],"mark":{"type":"line","color":"#000000","strokeWidth":1.6,"interpolate":"monotone"}},
  {"data":{"name":"ann"},"transform":[{"filter":"datum.p === 'br' && datum.k === 'a'"}],"mark":{"type":"rule","color":"#000","strokeWidth":1.1},"encoding":{"x2":{"field":"x2"},"y2":{"field":"y2"}}},
  {"data":{"name":"ann"},"transform":[{"filter":"datum.p === 'br' && datum.k === 'h'"}],"mark":{"type":"point","shape":"M0,0L0.75,2.2L-0.75,2.2Z","filled":true,"color":"#000","size":100,"opacity":1,"strokeWidth":0},"encoding":{"angle":{"field":"ang","type":"quantitative","scale":null}}},
  {"data":{"name":"ann"},"transform":[{"filter":"datum.p === 'br' && datum.k === 'm'"}],"mark":{"type":"text","align":"left","baseline":"alphabetic","fontSize":22,"font":"Liberation Sans","color":"#000"},"encoding":{"text":{"field":"t"}}},
  {"data":{"name":"ann"},"transform":[{"filter":"datum.p === 'br' && datum.k === 's'"}],"mark":{"type":"text","align":"left","baseline":"alphabetic","fontSize":14,"font":"Liberation Sans","color":"#000"},"encoding":{"text":{"field":"t"}}},
  {"data":{"name":"ann"},"transform":[{"filter":"datum.p === 'br' && datum.k === 'r'"}],"mark":{"type":"text","align":"left","baseline":"alphabetic","fontSize":24,"fontWeight":"bold","font":"Liberation Sans","color":"#ff0000"},"encoding":{"text":{"field":"t"}}}
 ]
}
],
"columns":2,
"spacing":0,
"bounds":"flush"
}
